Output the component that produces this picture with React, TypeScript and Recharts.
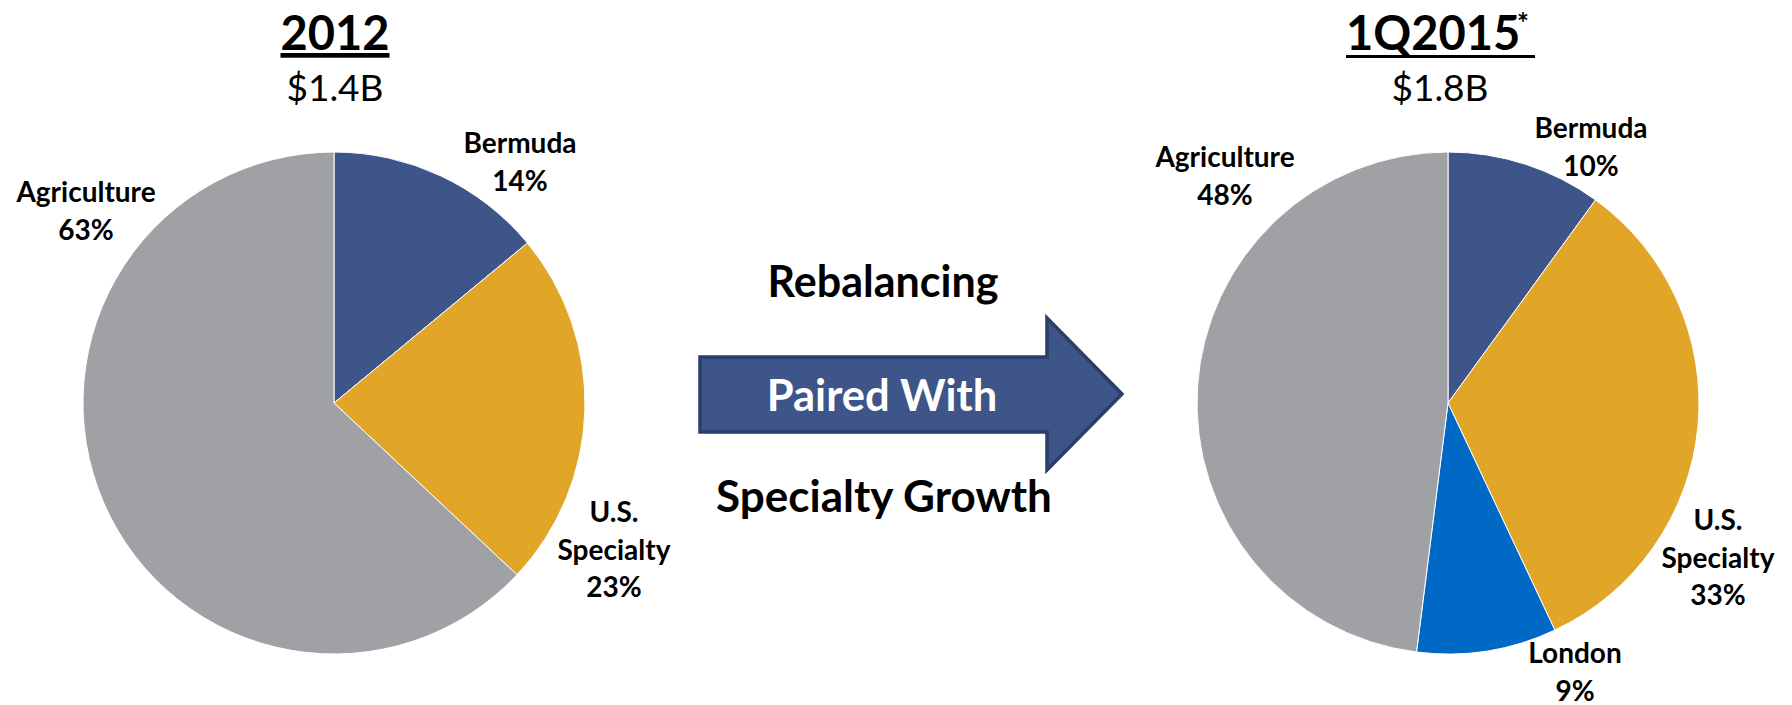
import React from 'react';
import { PieChart, Pie, Cell } from 'recharts';

// ---- data ----
const leftCategories = ['Bermuda', 'U.S. Specialty', 'Agriculture'];
const leftValues = [14, 23, 63];
const leftTitle = '2012';
const leftTotal = '$1.4B';

const rightCategories = ['Bermuda', 'U.S. Specialty', 'London', 'Agriculture'];
const rightValues = [10, 33, 9, 48];
const rightTitle = '1Q2015';
const rightTitleNote = '*';
const rightTotal = '$1.8B';

const arrowTop = 'Rebalancing';
const arrowMid = 'Paired With';
const arrowBottom = 'Specialty Growth';

// ---- styles ----
const COLORS: Record<string, string> = {
  Bermuda: '#3D5588',
  'U.S. Specialty': '#E1A628',
  London: '#0068C5',
  Agriculture: '#A0A1A5',
};
const FONT = 'Lato, "Open Sans", sans-serif';
const W = 1792;
const H = 705;
const R = 251;
const LEFT_C = { x: 334, y: 403 };
const RIGHT_C = { x: 1448, y: 403 };
const LINE_H = 37.5;

// label anchor offsets (relative to pie centre) for label placement
const LEFT_LABEL_OFFSETS: Record<string, [number, number]> = {
  Bermuda: [186, -250],
  'U.S. Specialty': [280, 119],
  Agriculture: [-248, -201],
};
const RIGHT_LABEL_OFFSETS: Record<string, [number, number]> = {
  Bermuda: [143, -265],
  'U.S. Specialty': [270, 127],
  London: [127, 260],
  Agriculture: [-223, -236],
};

const buildData = (cats: string[], vals: number[]) =>
  cats.map((name, i) => ({ name, value: vals[i] }));

const leftData = buildData(leftCategories, leftValues);
const rightData = buildData(rightCategories, rightValues);

const makeLabel = (offsets: Record<string, [number, number]>) => (props: any) => {
  const name: string = props?.payload?.name ?? props.name;
  const value: number = props?.payload?.value ?? props.value;
  const off = offsets[name];
  if (!off) return null;
  const x = props.cx + off[0];
  const y = props.cy + off[1];
  const lines = [...name.split(' '), `${value}%`];
  return (
    <text
      key={`lbl-${name}`}
      x={x}
      y={y}
      textAnchor="middle"
      fontFamily={FONT}
      fontWeight={700}
      fontSize={28}
      fill="#000"
    >
      {lines.map((l, i) => (
        <tspan key={i} x={x} dy={i === 0 ? 0 : LINE_H}>
          {l}
        </tspan>
      ))}
    </text>
  );
};

export default function App() {
  return (
    <div
      style={{
        position: 'absolute',
        left: 0,
        top: 0,
        width: W,
        height: H,
        background: '#fff',
        overflow: 'hidden',
      }}
    >
      <PieChart width={W} height={H} margin={{ top: 0, right: 0, bottom: 0, left: 0 }}>
        <Pie
          data={leftData}
          dataKey="value"
          nameKey="name"
          cx={LEFT_C.x}
          cy={LEFT_C.y}
          outerRadius={R}
          startAngle={90}
          endAngle={-270}
          stroke="#ffffff"
          strokeWidth={1}
          isAnimationActive={false}
          labelLine={false}
          label={makeLabel(LEFT_LABEL_OFFSETS)}
        >
          {leftData.map((d) => (
            <Cell key={d.name} fill={COLORS[d.name]} />
          ))}
        </Pie>
        <Pie
          data={rightData}
          dataKey="value"
          nameKey="name"
          cx={RIGHT_C.x}
          cy={RIGHT_C.y}
          outerRadius={R}
          startAngle={90}
          endAngle={-270}
          stroke="#ffffff"
          strokeWidth={1}
          isAnimationActive={false}
          labelLine={false}
          label={makeLabel(RIGHT_LABEL_OFFSETS)}
        >
          {rightData.map((d) => (
            <Cell key={d.name} fill={COLORS[d.name]} />
          ))}
        </Pie>
      </PieChart>
      <svg
        width={W}
        height={H}
        style={{ position: 'absolute', left: 0, top: 0, pointerEvents: 'none' }}
      >
        {/* titles */}
        <text
          x={LEFT_C.x + 1}
          y={50}
          textAnchor="middle"
          fontFamily={FONT}
          fontWeight={700}
          fontSize={47}
          fill="#000"
          style={{ textDecoration: 'underline' }}
        >
          {leftTitle}
        </text>
        <text x={LEFT_C.x + 1} y={101} textAnchor="middle" fontFamily={FONT} fontSize={37} fill="#000">
          {leftTotal}
        </text>
        <text
          x={1346}
          y={50}
          textAnchor="start"
          fontFamily={FONT}
          fontWeight={700}
          fontSize={47}
          fill="#000"
        >
          {rightTitle}
        </text>
        <text
          x={1517}
          y={33}
          textAnchor="start"
          fontFamily={FONT}
          fontWeight={700}
          fontSize={28}
          fill="#000"
        >
          {rightTitleNote}
        </text>
        <line x1={1346} x2={1535} y1={56.5} y2={56.5} stroke="#000" strokeWidth={3} />
        <text x={1440} y={101} textAnchor="middle" fontFamily={FONT} fontSize={37} fill="#000">
          {rightTotal}
        </text>

        {/* arrow */}
        <polygon
          points="700,357 1047,357 1047,318 1122,394 1047,470 1047,432 700,432"
          fill="#3D5588"
          stroke="#2A3E68"
          strokeWidth={3.5}
          strokeLinejoin="miter"
        />
        <text x={883} y={297} textAnchor="middle" fontFamily={FONT} fontWeight={700} fontSize={43} fill="#000">
          {arrowTop}
        </text>
        <text x={882} y={411} textAnchor="middle" fontFamily={FONT} fontWeight={700} fontSize={43.5} fill="#fff">
          {arrowMid}
        </text>
        <text x={884} y={512} textAnchor="middle" fontFamily={FONT} fontWeight={700} fontSize={44} fill="#000">
          {arrowBottom}
        </text>
      </svg>
    </div>
  );
}
